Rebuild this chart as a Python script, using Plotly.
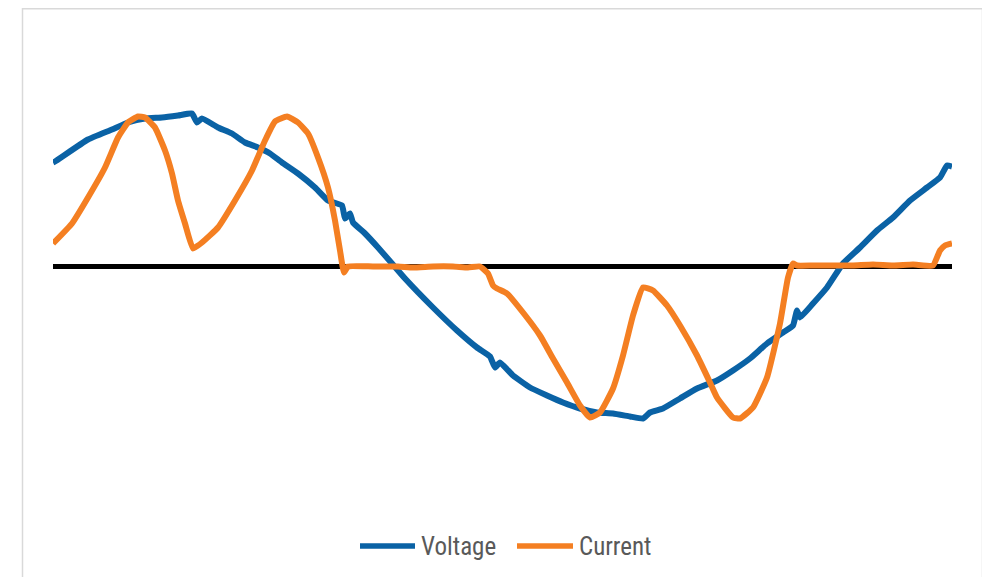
import plotly.graph_objects as go

# Sample index (time axis) and measured values (arbitrary units, 0 = zero line)
voltage_t = [0, 2, 35, 59, 75, 92, 109, 125, 139, 144, 149, 165, 179, 192, 205, 217, 229, 245,
             262, 275, 289, 292, 297, 300, 312, 325, 339, 352, 380, 404, 424, 437, 442, 447,
             460, 477, 494, 510, 527, 544, 560, 577, 590, 597, 610, 627, 644, 664, 680, 697,
             714, 730, 740, 744, 747, 760, 774, 790, 807, 824, 840, 857, 874, 887, 894, 899]
voltage_v = [104, 105, 127, 137, 144, 148, 149, 151, 153, 144, 148, 139, 133, 124, 119, 113, 104, 93,
             79, 66, 61, 48, 53, 44, 33, 19, 3, -12, -41, -64, -81, -90, -101, -96,
             -109, -121, -129, -136, -142, -146, -147, -150, -152, -146, -142, -132, -122, -114, -104, -92,
             -77, -66, -59, -44, -51, -37, -21, 3, 19, 36, 49, 66, 79, 89, 101, 100]

current_t = [0, 19, 35, 52, 65, 75, 85, 92, 102, 112, 119, 125, 132, 140, 149, 165, 182, 199,
             212, 222, 234, 245, 255, 265, 275, 282, 287, 291, 295, 320, 345, 360, 380, 400,
             415, 427, 435, 440, 444, 454, 470, 487, 500, 514, 527, 537, 547, 560, 570, 580,
             590, 600, 614, 627, 644, 657, 664, 680, 687, 700, 714, 727, 735, 740, 744, 760,
             780, 800, 820, 840, 860, 880, 887, 892, 899]
current_v = [23, 43, 69, 99, 129, 144, 150, 149, 139, 116, 93, 66, 43, 18, 24, 39, 66, 96,
             126, 145, 150, 144, 133, 109, 79, 46, 16, -6, 0, 0, 0, -1, 0, 0,
             -1, 0, -7, -19, -22, -27, -46, -69, -92, -116, -139, -151, -146, -122, -89, -49,
             -21, -24, -39, -59, -89, -116, -131, -151, -152, -141, -111, -57, -11, 3, 1, 1,
             1, 1, 2, 1, 2, 1, 16, 21, 23]

series_names = ["Voltage", "Current"]
series_colors = ["#0A62A5", "#F47F22"]

# The page places the figure 8px in from the top-left corner (default body margin)
OFF = 8
W, H = 990 - OFF, 577 - OFF


def px(x):
    return (x - OFF) / W


def py(y):
    return 1 - (y - OFF) / H


fig = go.Figure()
fig.add_trace(go.Scatter(x=voltage_t, y=voltage_v, mode="lines", name=series_names[0],
                         line=dict(color=series_colors[0], width=6, shape="spline", smoothing=0.4),
                         showlegend=False))
fig.add_trace(go.Scatter(x=current_t, y=current_v, mode="lines", name=series_names[1],
                         line=dict(color=series_colors[1], width=6, shape="spline", smoothing=0.4),
                         showlegend=False))

x0, x1 = 53, 952
ytop, ybot = 30, 500
zero_px = 266.5

fig.update_layout(
    width=W, height=H,
    margin=dict(l=0, r=0, t=0, b=0),
    paper_bgcolor="white", plot_bgcolor="white",
    xaxis=dict(domain=[px(x0), px(x1)], range=[0, 899], showgrid=False, zeroline=False,
               showticklabels=False, showline=False, ticks=""),
    yaxis=dict(domain=[py(ybot), py(ytop)], range=[zero_px - ybot, zero_px - ytop],
               showgrid=False, zeroline=True, zerolinecolor="black", zerolinewidth=5,
               showticklabels=False, showline=False, ticks=""),
)

# chart border
fig.add_shape(type="rect", xref="paper", yref="paper",
              x0=px(22.5), x1=px(982.5), y0=-0.02, y1=py(8.8),
              line=dict(color="#D9D9D9", width=1.5), fillcolor="rgba(0,0,0,0)", layer="below")

# custom legend
legend_y = py(546)
legend_items = [(360, 415, 419), (517, 573, 577)]
for (lx0, lx1, tx), name, col in zip(legend_items, series_names, series_colors):
    fig.add_shape(type="line", xref="paper", yref="paper",
                  x0=px(lx0), x1=px(lx1), y0=legend_y, y1=legend_y,
                  line=dict(color=col, width=5.5))
    fig.add_annotation(x=px(tx), y=legend_y, xref="paper", yref="paper", text=name,
                       showarrow=False, xanchor="left", yanchor="middle",
                       font=dict(family="Liberation Sans Narrow, Roboto Condensed, Arial Narrow, Roboto, sans-serif",
                                 size=25, color="#595959"))

fig.write_html("out.html")
